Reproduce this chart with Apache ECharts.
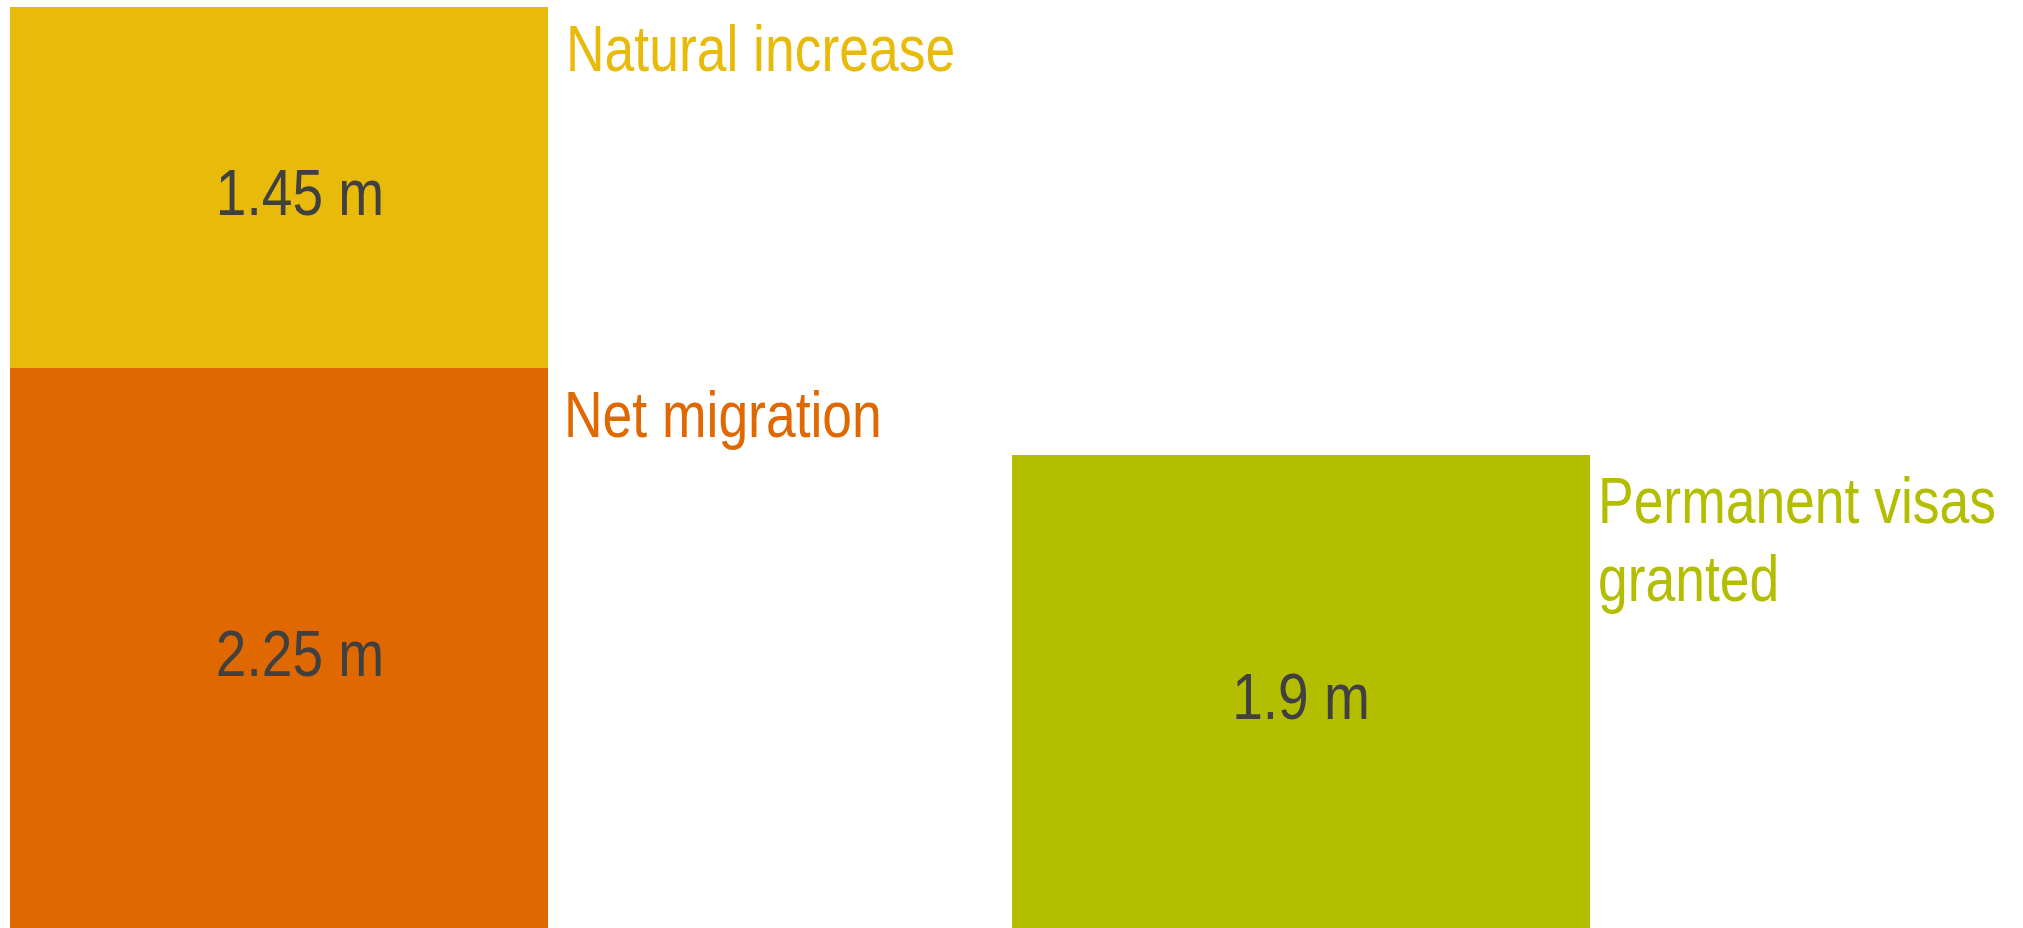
<!DOCTYPE html>
<html>
<head>
<meta charset="utf-8">
<script src="https://cdn.jsdelivr.net/npm/echarts@6/dist/echarts.min.js"></script>
<style>
  html, body { margin: 0; padding: 0; background: #ffffff; }
  #chart { width: 2023px; height: 928px; }
</style>
</head>
<body>
<div id="chart"></div>
<script>
// ---- data ----
const categories = ['Population growth', 'Permanent visas'];
const segmentNames = ['Net migration', 'Natural increase', 'Permanent visas\ngranted'];
const segmentCategory = [0, 0, 1];
const segmentValues = [2.25, 1.45, 1.9];
const valueLabels = ['2.25 m', '1.45 m', '1.9 m'];

// ---- style ----
const segmentColors = ['#E06800', '#E8BA0A', '#B4BE00'];
const barWidths = [538, 578];             // px, per category
const valueLabelShift = [21, 21, 0];      // px, horizontal shift of value label
const valueLabelDy = 10;                  // px, vertical nudge of value label
const nameLabelDx = [16, 18, 8];          // px, gap from bar right edge
const nameLabelDy = [12, 7, 11];          // px, below segment top
const FONT = "'Liberation Sans', Arial, sans-serif";
const NARROW_VALUE = 0.86;                // horizontal condensing of text
const NARROW_NAME = 0.835;

// stack bases computed from the values
const stackTotals = categories.map(() => 0);
const seriesData = segmentValues.map((v, i) => {
  const c = segmentCategory[i];
  const base = stackTotals[c];
  stackTotals[c] += v;
  return { value: [c, base, base + v, i], name: segmentNames[i] };
});

const chart = echarts.init(document.getElementById('chart'), null, { renderer: 'canvas' });
chart.setOption({
  animation: false,
  grid: { left: 279, right: 722, top: 7, bottom: 0 },
  xAxis: { type: 'category', data: categories, boundaryGap: false, show: false },
  yAxis: { type: 'value', min: 0, max: 3.7, show: false },
  series: [{
    type: 'custom',
    clip: false,
    data: seriesData,
    renderItem: function (params, api) {
      const c = api.value(0);
      const i = api.value(3);
      const pBase = api.coord([c, api.value(1)]);
      const pTop = api.coord([c, api.value(2)]);
      const w = barWidths[c];
      const x0 = pBase[0] - w / 2;
      const h = pBase[1] - pTop[1];
      return {
        type: 'group',
        children: [
          {
            type: 'rect',
            shape: { x: x0, y: pTop[1], width: w, height: h },
            style: { fill: segmentColors[i] }
          },
          {
            type: 'text',
            x: pBase[0] + valueLabelShift[i],
            y: pTop[1] + h / 2 + valueLabelDy,
            scaleX: NARROW_VALUE,
            style: {
              text: valueLabels[i], fill: '#404040',
              fontSize: 64, fontFamily: FONT,
              align: 'center', verticalAlign: 'middle'
            }
          },
          {
            type: 'text',
            x: x0 + w + nameLabelDx[i],
            y: pTop[1] + nameLabelDy[i],
            scaleX: NARROW_NAME,
            style: {
              text: segmentNames[i], fill: segmentColors[i],
              fontSize: 64, fontFamily: FONT, lineHeight: 78,
              align: 'left', verticalAlign: 'top'
            }
          }
        ]
      };
    }
  }]
});
</script>
</body>
</html>
